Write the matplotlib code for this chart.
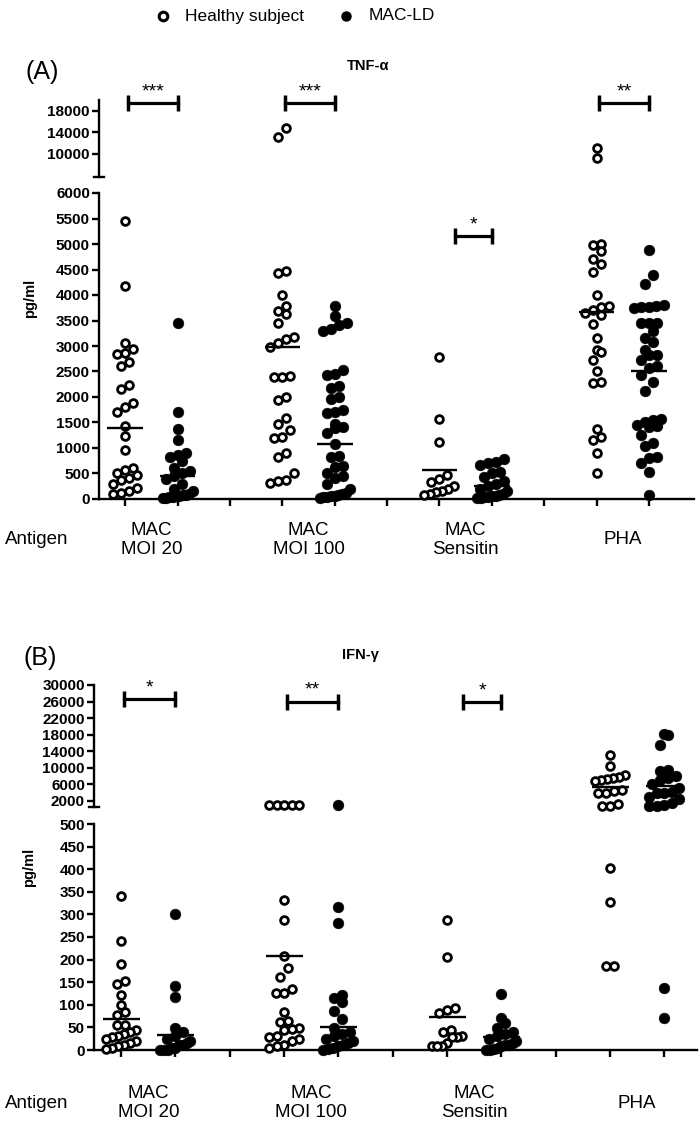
import numpy as np
import matplotlib
matplotlib.use("Agg")
import matplotlib.pyplot as plt
from matplotlib import transforms
from matplotlib.lines import Line2D

plt.rcParams['font.family'] = ['Liberation Sans', 'DejaVu Sans']

# --- data ---
antigens = ["MAC\nMOI 20", "MAC\nMOI 100", "MAC\nSensitin", "PHA"]
series_names = ["Healthy subject", "MAC-LD"]
group_x = [1, 2, 4, 5, 7, 8, 10, 11]
group_kind = ["hs", "mac", "hs", "mac", "hs", "mac", "hs", "mac"]

# TNF-alpha, pg/ml
tnf_hs_moi20 = [5450, 4180, 3050, 2950, 2870, 2850, 2680, 2600, 2230, 2160, 1880, 1800, 1700,
                1430, 1230, 960, 600, 560, 500, 470, 420, 380, 300, 220, 150, 120, 100]
tnf_mac_moi20 = [3450, 1700, 1370, 1150, 900, 870, 830, 750, 600, 550, 500, 460, 400, 300, 200,
                 150, 100, 80, 70, 60, 50, 40, 30, 20, 10]
tnf_hs_moi100 = [14800, 13200, 4470, 4430, 4000, 3780, 3680, 3620, 3450, 3170, 3130, 3060, 2990,
                 2410, 2390, 2400, 2000, 1950, 1580, 1470, 1350, 1220, 1200, 910, 820, 500, 370,
                 360, 320]
tnf_mac_moi100 = [3780, 3580, 3450, 3420, 3330, 3300, 2520, 2450, 2430, 2220, 2170, 2000, 1970,
                  1740, 1710, 1680, 1480, 1420, 1390, 1290, 1080, 840, 830, 650, 620, 500, 450,
                  420, 300, 200, 120, 100, 80, 60, 50, 40, 30, 20]
tnf_hs_sens = [2780, 1560, 1120, 480, 400, 330, 260, 200, 150, 130, 100, 80]
tnf_mac_sens = [780, 730, 700, 670, 520, 500, 430, 350, 300, 250, 200, 150, 100, 80, 60, 50, 40,
                30, 20, 10]
tnf_hs_pha = [11100, 9300, 5000, 4980, 4870, 4700, 4600, 4450, 4000, 3780, 3770, 3710, 3640, 3600,
              3430, 3150, 2930, 2890, 2720, 2510, 2300, 2270, 1370, 1220, 1160, 900, 500]
tnf_mac_pha = [4880, 4390, 4220, 3800, 3780, 3770, 3770, 3740, 3460, 3450, 3450, 3300, 3150, 3070,
               2920, 2820, 2820, 2720, 2600, 2560, 2430, 2300, 2120, 1560, 1550, 1500, 1450, 1430,
               1420, 1250, 1090, 1030, 830, 800, 710, 520, 80]
tnf_groups = [tnf_hs_moi20, tnf_mac_moi20, tnf_hs_moi100, tnf_mac_moi100,
              tnf_hs_sens, tnf_mac_sens, tnf_hs_pha, tnf_mac_pha]
tnf_center = [1400, 457, 2990, 1080, 570, 262, 3673, 2510]

# IFN-gamma, pg/ml
ifn_hs_moi20 = [341, 242, 191, 153, 145, 121, 99, 84, 77, 55, 55, 44, 40, 35, 30, 28, 25, 20, 15,
                10, 8, 5, 3]
ifn_mac_moi20 = [300, 141, 117, 48, 40, 30, 25, 20, 15, 10, 10, 5, 5, 0, 0, 0]
ifn_hs_moi100 = [1000, 1000, 1000, 1000, 1000, 332, 288, 209, 182, 161, 136, 126, 126, 84, 65, 62,
                 48, 46, 44, 30, 28, 25, 20, 10, 8, 5]
ifn_mac_moi100 = [1000, 316, 280, 121, 116, 106, 87, 68, 48, 40, 35, 30, 25, 20, 15, 10, 8, 5, 3, 0]
ifn_hs_sens = [288, 206, 92, 88, 81, 44, 40, 30, 28, 28, 15, 9, 9, 9]
ifn_mac_sens = [123, 70, 60, 48, 40, 35, 30, 25, 20, 15, 12, 10, 8, 5, 3, 0, 0]
ifn_hs_pha = [13150, 10500, 8300, 7800, 7500, 7200, 7000, 6800, 4600, 4300, 4000, 3800, 1300, 800,
              650, 402, 327, 185, 185]
ifn_mac_pha = [18200, 17800, 15600, 9500, 9100, 8000, 7500, 7000, 6000, 5000, 4200, 4000, 3800,
               3000, 2500, 1500, 1000, 800, 700, 137, 70]
ifn_groups = [ifn_hs_moi20, ifn_mac_moi20, ifn_hs_moi100, ifn_mac_moi100,
              ifn_hs_sens, ifn_mac_sens, ifn_hs_pha, ifn_mac_pha]
ifn_center = [68, 33, 207, 51, 72, 29, 5450, 5600]

# significance: (antigen index, bracket level pg/ml, stars)
tnf_sig = [(0, 19400, "***"), (1, 19400, "***"), (2, 5150, "*"), (3, 19400, "**")]
ifn_sig = [(0, 26500, "*"), (1, 26000, "**"), (2, 25800, "*")]

W, H = 700, 1140
fig = plt.figure(figsize=(W / 100, H / 100), dpi=100)


def rect(l, t, r, b):
    return [l / W, 1 - b / H, (r - l) / W, (b - t) / H]


def swarm_x(ax, xc, vals, step=8.0, gap=9.5, half=15.0):
    vals = np.asarray(vals, float)
    ypx = ax.transData.transform(np.column_stack([np.full(len(vals), xc), vals]))[:, 1]
    order = np.argsort(ypx)
    offs = np.zeros(len(vals))
    rows, row = [], []
    for i in order:
        if row and ypx[i] - ypx[row[0]] >= gap:
            rows.append(row)
            row = []
        row.append(i)
    if row:
        rows.append(row)
    for r in rows:
        n = len(r)
        s = step if (n - 1) * step <= 2 * half else 2 * half / (n - 1)
        for k, i in enumerate(r):
            offs[i] = (k - (n - 1) / 2) * s
    x0, x1 = ax.get_xlim()
    return xc + offs / (ax.bbox.width / (x1 - x0))


def style_axes(ax_top, ax_bot, xlim, top_lim, top_ticks, bot_lim, bot_ticks):
    for ax in (ax_top, ax_bot):
        ax.set_xlim(*xlim)
        for s in ("top", "right"):
            ax.spines[s].set_visible(False)
        for s in ("left", "bottom"):
            ax.spines[s].set_linewidth(1.7)
        ax.tick_params(axis="both", length=5, width=1.7, pad=1.5, labelsize=11)
    ax_top.spines["bottom"].set_visible(False)
    ax_top.set_xticks([])
    ax_top.set_ylim(*top_lim)
    ax_top.set_yticks(top_ticks, labels=[str(t) for t in top_ticks], fontweight="bold")
    ax_top.plot([-0.009, 0.009], [0, 0], transform=ax_top.transAxes, color="black",
                lw=1.7, clip_on=False)
    ax_bot.set_ylim(*bot_lim)
    ax_bot.set_yticks(bot_ticks, labels=[str(t) for t in bot_ticks], fontweight="bold")
    ax_bot.set_xticks(range(1, 12), labels=[""] * 11)


def draw_panel(ax_top, ax_bot, groups, centers, sig, break_at):
    for vals, kind, xc, c in zip(groups, group_kind, group_x, centers):
        vals = np.asarray(vals, float)
        if kind == "hs":
            kw = dict(marker="o", ms=5.6, mfc="white", mec="black", mew=2.0)
        else:
            kw = dict(marker="o", ms=7.8, mfc="black", mec="black", mew=0.3)
        for ax, part in ((ax_bot, vals[vals <= break_at]), (ax_top, vals[vals > break_at])):
            if len(part):
                ax.plot(swarm_x(ax, xc, part), part, ls="none", clip_on=False, zorder=3, **kw)
        ax = ax_bot if c <= break_at else ax_top
        ax.plot([xc - 0.34, xc + 0.34], [c, c], color="black", lw=1.7, zorder=4,
                solid_capstyle="butt")
    for gi, level, stars in sig:
        ax = ax_bot if level <= break_at else ax_top
        xa, xb = group_x[2 * gi], group_x[2 * gi + 1]
        if gi == 2:
            xa += 0.3
        else:
            xa += 0.05
        ax.plot([xa, xb], [level, level], color="black", lw=2.3, clip_on=False,
                marker="|", ms=11, mew=2.5, zorder=4)
        ax.annotate(stars, ((xa + xb) / 2, level), xytext=(0, 2), textcoords="offset points",
                    ha="center", va="bottom", fontsize=14, annotation_clip=False)


def category_labels(ax, y_px):
    tr = transforms.blended_transform_factory(ax.transData, fig.transFigure)
    for i, lab in enumerate(antigens):
        ax.text((group_x[2 * i] + group_x[2 * i + 1]) / 2, 1 - y_px / H, lab, transform=tr,
                ha="center", va="center", fontsize=13.5, linespacing=1.15)
    fig.text(5 / W, 1 - y_px / H, "Antigen", ha="left", va="center", fontsize=13.5)


# --- panel A: TNF-alpha ---
a_top = fig.add_axes(rect(99, 100, 694, 177))
a_bot = fig.add_axes(rect(99, 193, 694, 499))
style_axes(a_top, a_bot, (0.5, 11.86), (5700, 20000), [10000, 14000, 18000],
           (0, 6000), list(range(0, 6001, 500)))
draw_panel(a_top, a_bot, tnf_groups, tnf_center, tnf_sig, 6000)
category_labels(a_bot, 540)
fig.text(42 / W, 1 - 72 / H, "(A)", ha="center", va="center", fontsize=18)
fig.text(368 / W, 1 - 66 / H, "TNF-α", ha="center", va="center", fontsize=10.5, fontweight="bold")
fig.text(30 / W, 1 - 298 / H, "pg/ml", ha="center", va="center", rotation=90,
         fontsize=10.5, fontweight="bold")

# --- panel B: IFN-gamma ---
b_top = fig.add_axes(rect(94, 685, 697, 807))
b_bot = fig.add_axes(rect(94, 824, 697, 1050))
style_axes(b_top, b_bot, (0.5, 11.6), (500, 30000), list(range(2000, 30001, 4000)),
           (0, 500), list(range(0, 501, 50)))
draw_panel(b_top, b_bot, ifn_groups, ifn_center, ifn_sig, 500)
category_labels(b_bot, 1103)
fig.text(40 / W, 1 - 658 / H, "(B)", ha="center", va="center", fontsize=18)
fig.text(360 / W, 1 - 655 / H, "IFN-γ", ha="center", va="center", fontsize=10.5, fontweight="bold")
fig.text(29 / W, 1 - 867 / H, "pg/ml", ha="center", va="center", rotation=90,
         fontsize=10.5, fontweight="bold")

# --- legend (drawn by hand to match spacing) ---
fig.add_artist(Line2D([163 / W], [1 - 16 / H], ls="none", marker="o", ms=6.2, mfc="white",
                      mec="black", mew=2.2))
fig.text(185 / W, 1 - 16 / H, series_names[0], ha="left", va="center", fontsize=12.5)
fig.add_artist(Line2D([346 / W], [1 - 16 / H], ls="none", marker="o", ms=6.5, mfc="black",
                      mec="black"))
fig.text(369 / W, 1 - 16 / H, series_names[1], ha="left", va="center", fontsize=12.5)

fig.savefig("out.png", dpi=100)
